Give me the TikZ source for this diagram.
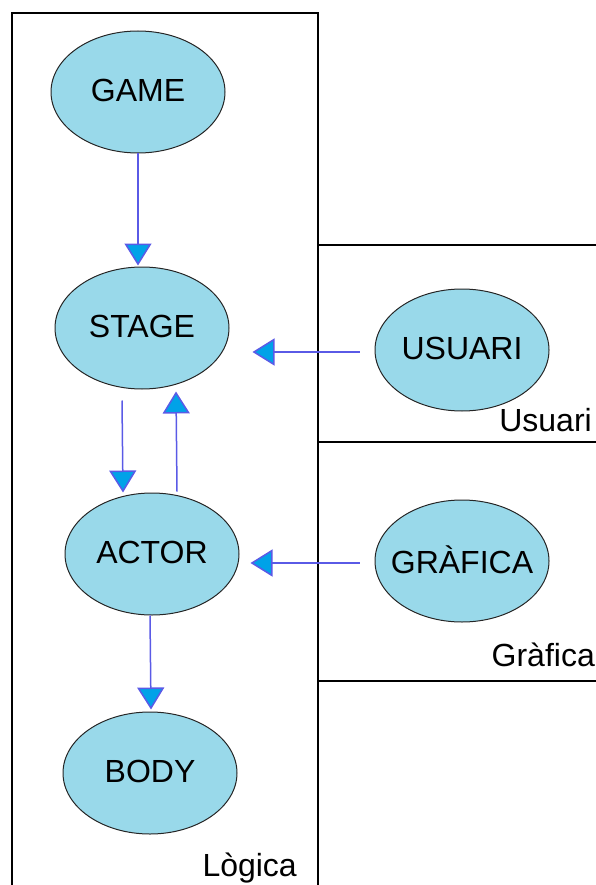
\documentclass[tikz,border=0pt]{standalone}
\usepackage{fontspec}
\setmainfont{Liberation Sans}
\usetikzlibrary{arrows.meta,calc,shapes.geometric}
\definecolor{ellfill}{RGB}{153,217,234}
\definecolor{arrline}{RGB}{90,90,230}
\definecolor{arrfill}{RGB}{0,162,232}
\newcommand{\elltext}[1]{\raisebox{3pt}{\makebox[0pt][c]{#1}}}
\tikzset{
  ell/.style={ellipse,draw=black!85,line width=1pt,fill=ellfill,minimum width=174pt,minimum height=122pt,inner sep=0pt,font=\fontsize{32}{32}\selectfont},
  arr/.style={draw=arrline,line width=1.5pt,-{Triangle[length=22pt,width=27pt,fill=arrfill]}},
  frame/.style={draw=black,line width=1.5pt},
  lbl/.style={font=\fontsize{32}{32}\selectfont,inner sep=0pt}
}
\begin{document}
\begin{tikzpicture}[x=1pt,y=-1pt]
\useasboundingbox (0,0) rectangle (596,885);
% frames
\draw[frame] (12,890) -- (12,13) -- (318,13) -- (318,890);
\draw[frame] (318,245) -- (600,245);
\draw[frame] (318,442) -- (600,442);
\draw[frame] (318,681) -- (600,681);
% nodes
\node[ell] (game) at (138,92) {\elltext{GAME}};
\node[ell] (stage) at (142,328) {\elltext{STAGE}};
\node[ell] (actor) at (152,554) {\elltext{ACTOR}};
\node[ell] (body) at (150,773) {\elltext{BODY}};
\node[ell] (usuari) at (462,350) {\elltext{USUARI}};
\node[ell] (grafica) at (462,561) {\elltext{GRÀFICA}};
% labels
\node[lbl,anchor=base east] (lusuari) at (592,431) {Usuari};
\node[lbl,anchor=base east] (lgrafica) at (595,666) {Gràfica};
\node[lbl,anchor=base east] (llogica) at (297,876) {Lògica};
% connectors
\draw[arr] (game.south) -- (game.south |- {$(stage.north)+(0,-1)$});
\draw[arr] ($(stage.south)+(-20,11)$) -- ($(actor.north)+(-29,0)$);
\draw[arr] ($(actor.north)+(25,-1)$) -- ($(stage.south)+(34,2)$);
\draw[arr] ($(usuari.west)+(-15,2)$) -- ($(stage.east)+(23,24)$);
\draw[arr] ($(grafica.west)+(-15,2)$) -- ($(actor.east)+(11,9)$);
\draw[arr] (body.north |- actor.south) -- ($(body.north)+(1,-2)$);
\end{tikzpicture}
\end{document}
